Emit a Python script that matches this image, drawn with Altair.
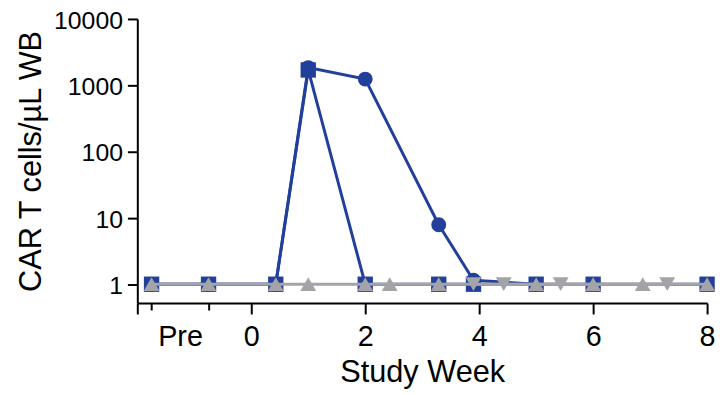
import altair as alt
import pandas as pd

# ---- data ----
circle_x = [-1.75, -0.75, 0.43, 1.0, 2.0, 3.29, 3.9, 5.0]
circle_y = [1, 1, 1, 1850, 1240, 7.9, 1.15, 1]

square_x = [-1.75, -0.75, 0.43, 1.0, 2.0, 3.29, 3.9, 5.0, 6.0, 8.0]
square_y = [1, 1, 1, 1700, 1, 1, 1, 1, 1, 1]

tri_up_x = [-1.75, -0.75, 0.43, 1.0, 2.0, 2.43, 3.29, 5.0, 6.0, 6.87, 8.0]
tri_up_y = [1, 1, 1, 1, 1, 1, 1, 1, 1, 1, 1]

tri_down_x = [3.9, 4.43, 5.43, 7.3]
tri_down_y = [1, 1, 1, 1]

x_ticks = [-2, -1.75, -1.25, -0.75, 0, 2, 4, 6, 8]
y_ticks = [1, 10, 100, 1000, 10000]

BLUE = "#22409A"
GRAY = "#A3A3A8"
FONT = "Liberation Sans"

series = [
    ("circle", circle_x, circle_y, "circle", BLUE, 225),
    ("square", square_x, square_y, "square", BLUE, 240),
    ("tri_up", tri_up_x, tri_up_y, "triangle-up", GRAY, 256),
    ("tri_down", tri_down_x, tri_down_y, "triangle-down", GRAY, 256),
]

rows = []
for name, xs, ys, _, _, _ in series:
    for i, (xv, yv) in enumerate(zip(xs, ys)):
        rows.append({"series": name, "x": xv, "y": yv, "i": i})
df = pd.DataFrame(rows)

x_enc = alt.X(
    "x:Q",
    scale=alt.Scale(domain=[-2, 8], nice=False, zero=False),
    axis=alt.Axis(
        values=x_ticks,
        labelExpr="datum.value == -1.25 ? 'Pre' : (datum.value < 0 ? '' : datum.label)",
        tickSize={"condition": {"test": "datum.value == -1.75 || datum.value == -0.75", "value": 7}, "value": 11},
        tickOpacity={"condition": {"test": "datum.value == -1.25", "value": 0}, "value": 1},
        labelFlush=False,
        labelOverlap=False,
        labelFontSize=29,
        labelPadding=9,
        format="d",
        title="Study Week",
        titleFontSize=31,
        titleFontWeight="normal",
        titleX=287.5,
        titleY=79,
        titleAlign="center",
        titleBaseline="alphabetic",
        grid=False,
    ),
)
y_enc = alt.Y(
    "y:Q",
    scale=alt.Scale(type="log", domain=[0.52, 10000], nice=False),
    axis=alt.Axis(
        values=y_ticks,
        format="d",
        labelOverlap=False,
        labelFontSize=25,
        labelPadding=5,
        labelBaseline="alphabetic",
        labelOffset=9.5,
        tickSize=10,
        title="CAR T cells/µL WB",
        titleFontSize=31,
        titleFontWeight="normal",
        titleX=-97.5,
        titleY=143.3,
        titleAlign="center",
        titleBaseline="alphabetic",
        grid=False,
    ),
)

layers = []
for name, xs, ys, shape, color, size in series:
    base = alt.Chart(df).transform_filter(alt.datum.series == name)
    line = base.mark_line(color=color, strokeWidth=3).encode(
        x=x_enc, y=y_enc, order="i:Q"
    )
    pts = base.mark_point(
        shape=shape, filled=True, fill=color, color=color, opacity=1, size=size, strokeWidth=0
    ).encode(x=x_enc, y=y_enc)
    layers.extend([line, pts])

chart = (
    alt.layer(*layers)
    .properties(
        width=575,
        height=286.7,
        autosize=alt.AutoSizeParams(type="none"),
        padding={"left": 130.5, "top": 9.3, "right": 10, "bottom": 88},
    )
    .configure_view(stroke=None)
    .configure_axis(
        domainColor="black",
        domainWidth=2,
        tickColor="black",
        tickWidth=2,
        labelColor="black",
        titleColor="black",
        labelFont=FONT,
        titleFont=FONT,
    )
)

chart.save("out.html", embed_options={"renderer": "svg", "actions": False})
